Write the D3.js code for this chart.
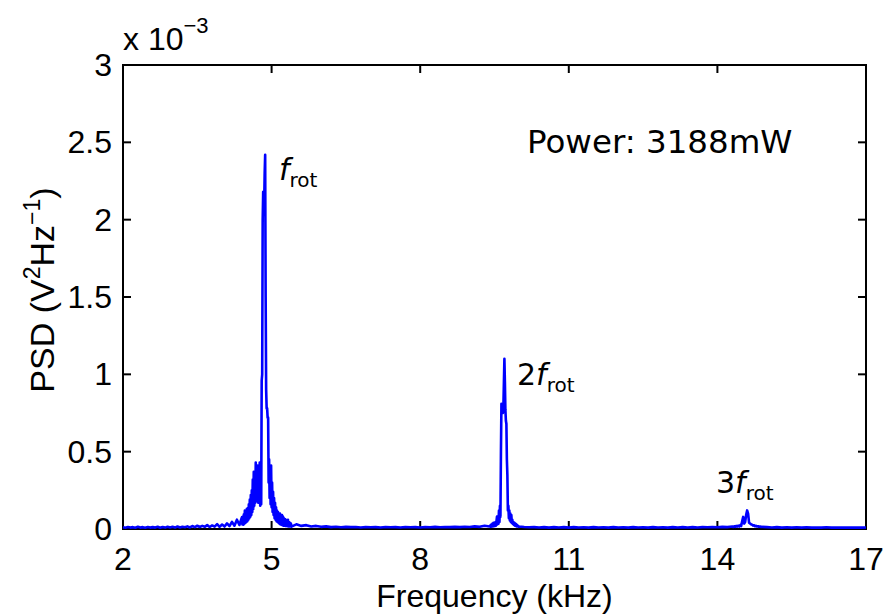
<!DOCTYPE html>
<html><head><meta charset="utf-8">
<script src="https://cdn.jsdelivr.net/npm/d3@7"></script>
<style>body{margin:0;background:#fff}</style>
</head><body><svg id="c" width="886" height="615"></svg>
<script>
// Axis ticks
const xTicks = [2, 5, 8, 11, 14, 17];
const yTicks = [0, 0.5, 1, 1.5, 2, 2.5, 3];
const yTickLabels = ["0", "0.5", "1", "1.5", "2", "2.5", "3"];

// PSD values in units of 1e-3 V^2/Hz, sampled on uniform frequency grids (kHz)
const lowStart = 2.00, lowStep = 0.05;
const lowPsd = [0.012,0.008,0.013,0.009,0.012,0.008,0.014,0.009,0.012,0.008,
  0.013,0.009,0.012,0.009,0.014,0.008,0.013,0.009,0.015,0.010,
  0.014,0.009,0.016,0.010,0.015,0.011,0.017,0.010,0.019,0.012,
  0.021,0.013,0.020,0.014,0.025,0.013,0.023,0.015,0.031,0.014,
  0.029,0.016,0.036,0.019,0.046,0.021,0.060,0.026,0.075];

const peak1Start = 4.41, peak1Step = 0.01;
const peak1Psd = [0.030,0.080,0.028,0.095,0.035,0.120,0.040,0.090,0.045,0.130,
  0.050,0.135,0.060,0.160,0.070,0.190,0.080,0.220,0.090,0.250,
  0.110,0.320,0.130,0.370,0.150,0.300,0.170,0.430,0.180,0.360,
  0.190,0.410,0.170,0.330,0.200,0.430,0.150,0.380,0.160,0.960,
  1.000,2.000,2.180,2.150,2.100,2.300,2.420,1.500,0.900,0.780,
  0.780,0.720,0.720,0.300,0.450,0.200,0.380,0.160,0.410,0.140,
  0.300,0.110,0.240,0.090,0.200,0.070,0.170,0.060,0.140,0.050,
  0.120,0.045,0.110,0.040,0.095,0.035,0.100,0.030,0.085,0.028,
  0.090,0.025,0.080,0.022,0.070,0.022,0.065,0.020,0.060,0.020,
  0.055,0.018,0.060,0.017,0.045,0.017,0.040,0.016,0.035,0.015];

const midStart = 5.5, midStep = 0.1;
const midPsd = [0.030,0.020,0.025,0.016,0.020,0.014,0.017,0.012,0.015,0.011,
  0.014,0.012,0.013,0.010,0.013,0.011,0.012,0.010,0.013,0.011,
  0.012,0.010,0.013,0.011,0.012,0.010,0.013,0.011,0.014,0.011,
  0.013,0.012,0.014,0.012,0.015,0.013,0.017,0.014,0.021,0.016];

const peak2Start = 9.42, peak2Step = 0.01;
const peak2Psd = [0.025,0.014,0.030,0.016,0.035,0.017,0.040,0.018,0.030,0.020,
  0.045,0.022,0.050,0.080,0.030,0.070,0.035,0.120,0.045,0.150,
  0.080,0.500,0.810,0.780,0.760,0.750,0.800,0.950,1.100,0.950,
  0.770,0.700,0.680,0.450,0.350,0.120,0.150,0.070,0.120,0.055,
  0.100,0.045,0.090,0.040,0.060,0.032,0.045,0.027,0.040,0.022,
  0.035,0.020,0.030,0.017,0.025,0.016,0.020,0.014,0.016];

const highStart = 10.1, highStep = 0.1;
const highPsd = [0.013,0.011,0.012,0.010,0.012,0.009,0.012,0.010,0.012,0.009,
  0.012,0.010,0.011,0.009,0.012,0.010,0.011,0.009,0.012,0.010,
  0.011,0.009,0.012,0.010,0.011,0.009,0.012,0.010,0.011,0.009,
  0.012,0.010,0.012,0.010,0.012,0.010,0.012,0.011,0.013,0.011,
  0.014,0.012,0.016];

const peak3Start = 14.32, peak3Step = 0.02;
const peak3Psd = [0.013,0.018,0.014,0.020,0.015,0.022,0.016,0.025,0.019,0.050,
  0.078,0.035,0.045,0.090,0.120,0.100,0.040,0.035,0.030,0.028,
  0.022,0.024,0.018,0.020,0.016,0.018,0.014,0.016,0.013,0.014];

const tailStart = 15.0, tailStep = 0.1;
const tailPsd = [0.012,0.010,0.012,0.009,0.011,0.009,0.011,0.009,0.011,0.009,
  0.010,0.009,0.011,0.009,0.010,0.009,0.010,0.009,0.010,0.009,0.010];

const segments = [
  [lowStart, lowStep, lowPsd], [peak1Start, peak1Step, peak1Psd],
  [midStart, midStep, midPsd], [peak2Start, peak2Step, peak2Psd],
  [highStart, highStep, highPsd], [peak3Start, peak3Step, peak3Psd],
  [tailStart, tailStep, tailPsd]
];
const series = [];
segments.forEach(([s, st, vals]) => vals.forEach((v, i) => series.push({f: +(s + i * st).toFixed(3), v})));

const svg = d3.select('#c');
const L = 123, R = 866, T = 65, B = 529;
const x = d3.scaleLinear().domain([2, 17]).range([L, R]);
const y = d3.scaleLinear().domain([0, 3]).range([B, T]);
const helv = "'Liberation Sans', Arial, Helvetica, sans-serif";
const tex = "'DejaVu Sans', sans-serif";
const tick = 8;

// box
svg.append('rect').attr('x', L).attr('y', T).attr('width', R - L).attr('height', B - T)
  .attr('fill', 'none').attr('stroke', '#000').attr('stroke-width', 2);

// ticks
const g = svg.append('g').attr('stroke', '#000').attr('stroke-width', 2);
xTicks.forEach(t => {
  g.append('line').attr('x1', x(t)).attr('x2', x(t)).attr('y1', B).attr('y2', B - tick);
  g.append('line').attr('x1', x(t)).attr('x2', x(t)).attr('y1', T).attr('y2', T + tick);
});
yTicks.forEach(t => {
  g.append('line').attr('x1', L).attr('x2', L + tick).attr('y1', y(t)).attr('y2', y(t));
  g.append('line').attr('x1', R).attr('x2', R - tick).attr('y1', y(t)).attr('y2', y(t));
});

// data line
svg.append('path').datum(series)
  .attr('d', d3.line().x(d => x(d.f)).y(d => y(d.v)))
  .attr('fill', 'none').attr('stroke', '#0000ff').attr('stroke-width', 2.6)
  .attr('stroke-linejoin', 'round');

// tick labels
svg.append('g').selectAll('text').data(xTicks).join('text')
  .attr('x', d => x(d)).attr('y', 570).attr('text-anchor', 'middle')
  .attr('font-family', helv).attr('font-size', 32).text(d => d);
svg.append('g').selectAll('text').data(yTicks).join('text')
  .attr('x', 112).attr('y', d => y(d) + 11).attr('text-anchor', 'end')
  .attr('font-family', helv).attr('font-size', 32).text((d, i) => yTickLabels[i]);

// exponent
const ex = svg.append('text').attr('x', 123).attr('y', 50).attr('font-family', helv).attr('font-size', 32);
ex.append('tspan').text('x 10');
ex.append('tspan').attr('font-size', 22).attr('dy', -17).text('\u22123');

// axis labels
svg.append('text').attr('x', (L + R) / 2).attr('y', 607).attr('text-anchor', 'middle')
  .attr('font-family', helv).attr('font-size', 32).text('Frequency (kHz)');
const yl = svg.append('text').attr('transform', `translate(54,${(T + B) / 2 - 7}) rotate(-90)`)
  .attr('text-anchor', 'middle').attr('font-family', helv).attr('font-size', 34);
yl.append('tspan').text('PSD (V');
yl.append('tspan').attr('font-size', 23).attr('dy', -14).text('2');
yl.append('tspan').attr('dy', 14).text('Hz');
yl.append('tspan').attr('font-size', 23).attr('dy', -14).text('\u22121');
yl.append('tspan').attr('dy', 14).text(')');

// annotations
svg.append('text').attr('x', 527).attr('y', 153).attr('font-family', tex).attr('font-size', 32.5)
  .text('Power: 3188mW');
function harmonic(prefix, xs, ys) {
  const t = svg.append('text').attr('x', xs).attr('y', ys).attr('font-family', tex).attr('font-size', 30);
  if (prefix) t.append('tspan').text(prefix);
  t.append('tspan').attr('font-style', 'italic').text('f');
  t.append('tspan').attr('font-size', 20).attr('dy', 7).text('rot');
}
harmonic('', 279, 180);
harmonic('2', 517, 385);
harmonic('3', 716, 493);
</script></body></html>
